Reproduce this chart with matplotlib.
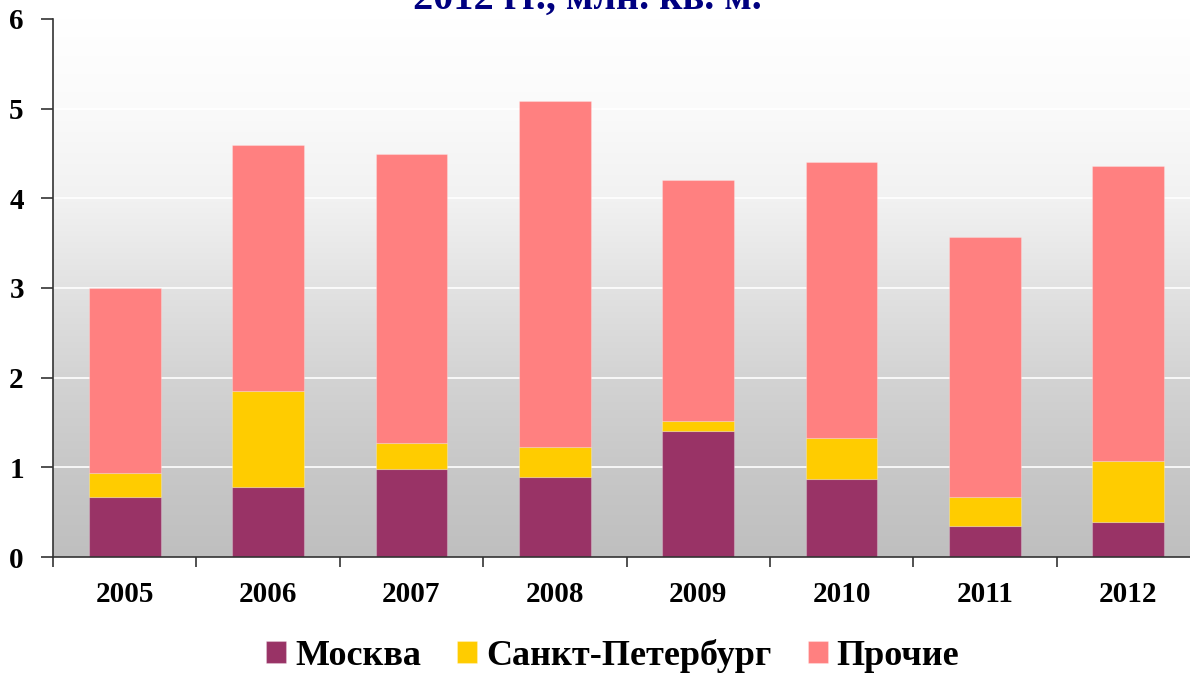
import numpy as np
import matplotlib
matplotlib.use("Agg")
import matplotlib.pyplot as plt
from matplotlib.colors import LinearSegmentedColormap

years = ["2005", "2006", "2007", "2008", "2009", "2010", "2011", "2012"]
moscow = [0.67, 0.78, 0.98, 0.89, 1.40, 0.87, 0.35, 0.39]
spb = [0.27, 1.07, 0.29, 0.34, 0.12, 0.46, 0.32, 0.68]
others = [2.06, 2.75, 3.22, 3.86, 2.68, 3.07, 2.90, 3.29]
series_names = ["Москва", "Санкт-Петербург", "Прочие"]
colors = ["#993366", "#FFCC00", "#FF8080"]

plt.rcParams['font.family'] = ['Liberation Serif', 'DejaVu Serif']
plt.rcParams['font.weight'] = 'bold'

fig = plt.figure(figsize=(11.9, 6.73), dpi=100)
ax = fig.add_axes([53/1190, 116/673, 1147/1190, 538/673])

# gradient background (top -> bottom)
grad = np.linspace(0, 1, 256).reshape(-1, 1)
cmap = LinearSegmentedColormap.from_list(
    "bg", [(0.0, "#ffffff"), (0.17, "#fafafa"), (0.33, "#f2f2f2"),
           (0.5, "#e2e2e2"), (0.67, "#d3d3d3"), (0.83, "#c8c8c8"), (1.0, "#bfbfbf")])
x = np.arange(len(years))
ax.set_xlim(-0.5, len(years) - 0.5)
ax.set_ylim(0, 6)
ax.imshow(grad, aspect='auto', cmap=cmap, extent=(-0.5, len(years) - 0.5, 0, 6),
          origin='upper', zorder=0)

for yv in range(1, 7):
    ax.axhline(yv, color='white', lw=1.2, zorder=1)

bottom = np.zeros(len(years))
for vals, name, c in zip([moscow, spb, others], series_names, colors):
    ax.bar(x, vals, 0.5, bottom=bottom, color=c, label=name, zorder=2,
           edgecolor=(1, 1, 1, 0.25), linewidth=0.8)
    bottom += np.array(vals)

for s in ['top', 'right']:
    ax.spines[s].set_visible(False)
for s in ['left', 'bottom']:
    ax.spines[s].set_color('#333333')
    ax.spines[s].set_linewidth(1.2)

ax.set_yticks(range(0, 7))
ax.set_yticklabels([str(v) for v in range(0, 7)], fontsize=21, fontweight='bold')
ax.tick_params(axis='y', length=9, width=1.2, color='#333333', pad=12)
ax.set_xticks(x)
ax.set_xticklabels(years, fontsize=21, fontweight='bold')
ax.tick_params(axis='x', which='major', length=0, pad=17)
ax.set_xticks(np.arange(-0.5, len(years), 1), minor=True)
ax.tick_params(axis='x', which='minor', length=7, width=1.2, color='#333333')

fig.text(0.494, 0.987, "2012 гг., млн. кв. м.", ha='center', va='baseline',
         fontsize=29, fontweight='bold', color='#000080')

handles, labels = ax.get_legend_handles_labels()
leg = fig.legend(handles, labels, loc='center', bbox_to_anchor=(0.515, 17/673),
                 ncol=3, frameon=False, handlelength=0.55, handleheight=0.55,
                 handletextpad=0.25, columnspacing=1.0,
                 prop={'size': 26, 'weight': 'bold'})

fig.savefig("out.png", dpi=100)
